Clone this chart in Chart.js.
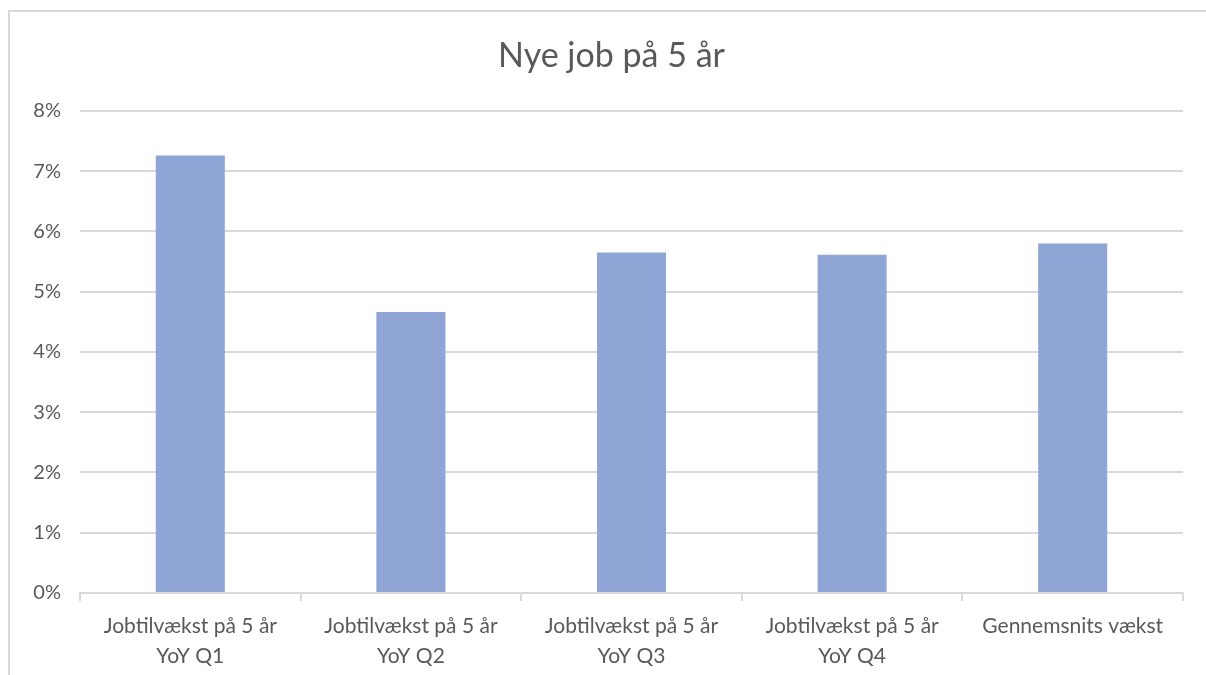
<!DOCTYPE html>
<html>
<head>
<meta charset="utf-8">
<script src="https://cdn.jsdelivr.net/npm/chart.js@4"></script>
<style>
    body { margin: 0; background: #fff; overflow: hidden; }
    #wrap { position: absolute; left: 0; top: 0; width: 1206px; height: 675px; }
    #frame {
        position: absolute; left: 8px; top: 10px; width: 1210px; height: 700px;
        border-left: 2px solid #d9d9d9; border-top: 2px solid #d9d9d9;
    }
</style>
</head>
<body>
<div id="wrap">
    <div id="frame"></div>
    <canvas id="jobs-chart" width="1206" height="675"></canvas>
</div>
<script>
// Data
const categories = [
    ['Jobtilvækst på 5 år', 'YoY Q1'],
    ['Jobtilvækst på 5 år', 'YoY Q2'],
    ['Jobtilvækst på 5 år', 'YoY Q3'],
    ['Jobtilvækst på 5 år', 'YoY Q4'],
    'Gennemsnits vækst'
];
const growth = [7.26, 4.66, 5.65, 5.61, 5.80]; // percent
const yTicks = [0, 1, 2, 3, 4, 5, 6, 7, 8];

const textColor = '#595959';
const gridColor = '#d9d9d9';
const fontFamily = 'Lato, "Open Sans", sans-serif';

// centre the title on the frame (it starts at x=8), not on the canvas
const titleCentre = {
    id: 'titleCentre',
    afterLayout(chart) {
        if (chart.titleBlock) chart.titleBlock.left += 20;
    }
};

const ctx = document.getElementById('jobs-chart');
new Chart(ctx, {
    type: 'bar',
    data: {
        labels: categories,
        datasets: [{
            label: 'Nye job',
            data: growth,
            backgroundColor: '#8fa5d6',
            borderWidth: 0,
            categoryPercentage: 1,
            barPercentage: 0.313
        }]
    },
    plugins: [titleCentre],
    options: {
        responsive: false,
        animation: false,
        layout: {
            padding: { left: 20, right: 23, top: 10, bottom: 0 }
        },
        plugins: {
            legend: { display: false },
            tooltip: { enabled: false },
            title: {
                display: true,
                text: 'Nye job på 5 år',
                color: textColor,
                font: { family: fontFamily, size: 34, weight: 'normal' },
                padding: { top: 26, bottom: 34 }
            }
        },
        scales: {
            y: {
                min: 0,
                max: 8,
                afterBuildTicks: (scale) => {
                    scale.ticks = yTicks.map(v => ({ value: v }));
                },
                afterFit: (scale) => { scale.width = 60; },
                border: { display: false },
                grid: {
                    color: gridColor,
                    lineWidth: 2,
                    drawTicks: false
                },
                ticks: {
                    color: textColor,
                    padding: 19,
                    font: { family: fontFamily, size: 20 },
                    callback: (v) => v + '%'
                }
            },
            x: {
                afterFit: (scale) => { scale.height = 82; },
                border: { display: true, color: gridColor, width: 2 },
                grid: {
                    offset: true,
                    drawOnChartArea: false,
                    color: gridColor,
                    lineWidth: 2,
                    tickLength: 8
                },
                ticks: {
                    color: textColor,
                    padding: 10,
                    maxRotation: 0,
                    autoSkip: false,
                    font: { family: fontFamily, size: 21, lineHeight: 1.43 }
                }
            }
        }
    }
});
</script>
</body>
</html>
